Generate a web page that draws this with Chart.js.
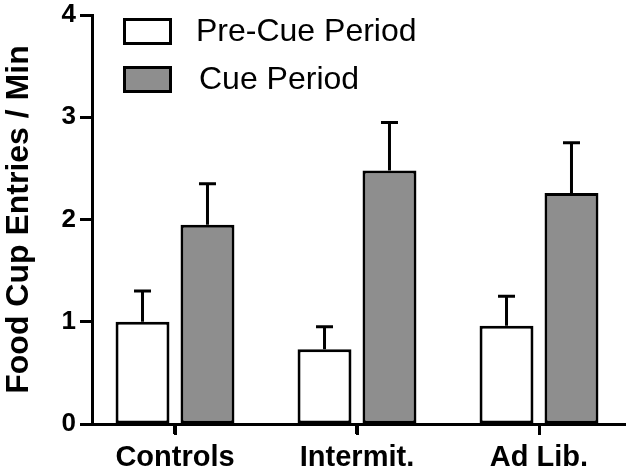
<!DOCTYPE html>
<html>
<head>
<meta charset="utf-8">
<script src="https://cdn.jsdelivr.net/npm/chart.js@4"></script>
<style>
  html, body { margin: 0; padding: 0; background: #fff; }
  #wrap { width: 630px; height: 474px; position: relative; }
</style>
</head>
<body>
<div id="wrap"><canvas id="c" width="630" height="474"></canvas></div>
<script>
const categories = ['Controls', 'Intermit.', 'Ad Lib.'];
const seriesNames = ['Pre-Cue Period', 'Cue Period'];
const preCue = [1.00, 0.73, 0.96];
const preCueErr = [0.30, 0.22, 0.29];
const cue = [1.95, 2.48, 2.26];
const cueErr = [0.40, 0.47, 0.49];
const yTicks = [0, 1, 2, 3, 4];
const yTitle = 'Food Cup Entries / Min';

Chart.defaults.font.family = '"Liberation Sans", Arial, Helvetica, sans-serif';
Chart.defaults.color = '#000';

const errorBars = {
  id: 'errorBars',
  afterDatasetsDraw(chart) {
    const { ctx, scales: { y } } = chart;
    ctx.save();
    ctx.strokeStyle = '#000';
    ctx.lineWidth = 3;
    chart.data.datasets.forEach((ds, i) => {
      const meta = chart.getDatasetMeta(i);
      meta.data.forEach((bar, j) => {
        const top = y.getPixelForValue(ds.data[j].y + ds.errors[j]);
        ctx.beginPath();
        ctx.moveTo(bar.x, bar.y);
        ctx.lineTo(bar.x, top);
        ctx.moveTo(bar.x - 8.5, top);
        ctx.lineTo(bar.x + 8.5, top);
        ctx.stroke();
      });
    });
    ctx.restore();
  }
};

const xTickMarks = {
  id: 'xTickMarks',
  afterDraw(chart) {
    const { ctx, scales: { x }, chartArea } = chart;
    ctx.save();
    ctx.strokeStyle = '#000';
    ctx.lineWidth = 3;
    x.ticks.forEach((t, i) => {
      const px = Math.round(x.getPixelForTick(i)) + 0.5;
      ctx.beginPath();
      ctx.moveTo(px, chartArea.bottom);
      ctx.lineTo(px, chartArea.bottom + 11);
      ctx.stroke();
    });
    ctx.restore();
  }
};

const boxLegend = {
  id: 'boxLegend',
  afterDraw(chart) {
    const { ctx, chartArea } = chart;
    ctx.save();
    ctx.font = '32px "Liberation Sans", Arial, sans-serif';
    ctx.textBaseline = 'middle';
    chart.data.datasets.forEach((ds, i) => {
      const x = chartArea.left + 31;
      const y = 18 + i * 48;
      ctx.fillStyle = ds.backgroundColor;
      ctx.fillRect(x, y, 49, 27);
      ctx.strokeStyle = '#000';
      ctx.lineWidth = 3;
      ctx.strokeRect(x + 1.5, y + 1.5, 46, 24);
      ctx.fillStyle = '#000';
      ctx.fillText(ds.label, x + 73 + i * 3, y + 14.5);
    });
    ctx.restore();
  }
};

const xMin = 1 - 83 / 182;
const xMax = categories.length + 86 / 182;

new Chart(document.getElementById('c'), {
  type: 'bar',
  data: {
    datasets: [
      {
        label: seriesNames[0],
        data: categories.map((c, i) => ({ x: i + 1, y: preCue[i] })),
        errors: preCueErr,
        backgroundColor: '#ffffff',
        borderColor: '#000000',
        borderWidth: 3,
        borderSkipped: false
      },
      {
        label: seriesNames[1],
        data: categories.map((c, i) => ({ x: i + 1, y: cue[i] })),
        errors: cueErr,
        backgroundColor: '#8e8e8e',
        borderColor: '#000000',
        borderWidth: 3,
        borderSkipped: false
      }
    ]
  },
  options: {
    responsive: false,
    animation: false,
    categoryPercentage: 0.714,
    barPercentage: 0.83,
    layout: { padding: { left: 0, right: 5, top: 0, bottom: 0 } },
    plugins: {
      legend: { display: false },
      tooltip: { enabled: false }
    },
    scales: {
      x: {
        type: 'linear',
        min: xMin,
        max: xMax,
        offset: false,
        afterBuildTicks(scale) {
          scale.ticks = categories.map((c, i) => ({ value: i + 1 }));
        },
        afterFit(scale) { scale.height = 50; },
        ticks: {
          autoSkip: false,
          maxRotation: 0,
          padding: 7,
          font: { size: 29, weight: 'bold' },
          color: '#000',
          callback: (v) => categories[Math.round(v) - 1] || ''
        },
        grid: {
          offset: false,
          drawOnChartArea: false,
          drawTicks: true,
          tickLength: 10,
          tickWidth: 3,
          tickColor: '#000'
        },
        border: { display: true, color: '#000', width: 3 }
      },
      y: {
        min: 0,
        max: 4,
        afterBuildTicks(scale) {
          scale.ticks = yTicks.map(v => ({ value: v }));
        },
        afterFit(scale) { scale.width = 92; },
        ticks: {
          padding: 4,
          font: { size: 26, weight: 'bold', lineHeight: 0.85 },
          color: '#000'
        },
        grid: {
          drawOnChartArea: false,
          drawTicks: true,
          tickLength: 12,
          tickWidth: 3,
          tickColor: '#000'
        },
        border: { display: true, color: '#000', width: 3 },
        title: {
          display: true,
          text: yTitle,
          font: { size: 32, weight: 'bold' },
          color: '#000',
          padding: { top: 0, bottom: 0 }
        }
      }
    }
  },
  plugins: [errorBars, xTickMarks, boxLegend]
});
</script>
</body>
</html>
